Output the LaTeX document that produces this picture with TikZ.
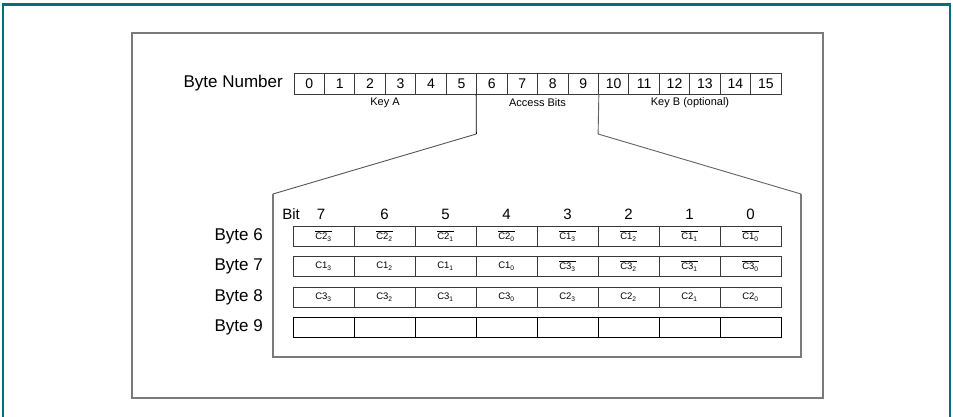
\documentclass[tikz,border=0pt]{standalone}
\usepackage{fontspec}
\setmainfont{Liberation Sans}
\definecolor{frameteal}{HTML}{00707F}
\definecolor{boxgray}{HTML}{7A7A7A}
\definecolor{cellline}{HTML}{3A3A3A}
\newcommand\cv[2]{C#1\textsubscript{#2}}
\newcommand\cn[2]{$\overline{\hbox{C#1\textsubscript{#2}}}$}
\tikzset{
  bytecell/.style={draw=cellline, line width=0.9pt, minimum width=30.44pt, minimum height=21pt, inner sep=0pt, font=\fontsize{14}{14}\selectfont},
  bitcell/.style={draw=cellline, line width=0.9pt, minimum width=61pt, minimum height=20pt, inner sep=0pt, font=\fontsize{9.5}{9.5}\selectfont},
  biglabel/.style={font=\fontsize{17}{17}\selectfont, inner sep=0pt},
  smalllabel/.style={font=\fontsize{11}{11}\selectfont, inner sep=0pt},
  bitnum/.style={font=\fontsize{15}{15}\selectfont, inner sep=0pt},
}
\begin{document}
\begin{tikzpicture}[x=1pt,y=-1pt]
\useasboundingbox (0,0) rectangle (953,417);
% outer teal frame
\draw[frameteal, line width=2pt] (3,430) -- (3,5) -- (950,5) -- (950,430);
\draw[frameteal, line width=3pt] (2,4.5) -- (951,4.5);
% inner gray box
\draw[boxgray, line width=1.2pt] (132,33) rectangle (823,398);
\draw[boxgray, line width=2pt] (132,33) -- (823,33);
\draw[boxgray, line width=2pt] (132,398) -- (823,398);

% Byte number row
\node[biglabel, anchor=east] (bn) at (283,83.5) {Byte Number};
\foreach \i in {0,...,15} {
  \pgfmathsetmacro\xc{294+30.44*(\i+0.5)}
  \node[bytecell] (b\i) at (\xc,83.5) {\i};
}
\node[smalllabel] (ka) at (385,103) {Key A};
\node[smalllabel] (ab) at (537.5,103) {Access Bits};
\node[smalllabel] (kb) at (690,103) {Key B (optional)};

% zoom outline
\coordinate (z1) at (476.3,134);
\coordinate (z2) at (273,194);
\coordinate (z3) at (273,357);
\coordinate (z4) at (801,357);
\coordinate (z5) at (801,194);
\coordinate (z6) at (598.1,134);
\draw[black, line width=0.9pt] (b6.south west) -- (z1);
\draw[boxgray!70!black, line width=0.9pt] (z1) -- (z2);
\draw[boxgray, line width=1.2pt] (z2) -- (z3) -- (z4) -- (z5);
\draw[boxgray!80!black, line width=0.9pt] (z5) -- (z6) -- (b9.south east);

% bit header
\node[bitnum, anchor=east] (bitlbl) at (300,214) {Bit};
\node[bitnum] (h7) at (321,214) {7};
\foreach \j/\b in {1/6,2/5,3/4,4/3,5/2,6/1,7/0} {
  \pgfmathsetmacro\xc{293+61*(\j+0.5)}
  \node[bitnum] (h\b) at (\xc,214) {\b};
}

% byte labels
\node[biglabel, anchor=east] (l6) at (263,236) {Byte 6};
\node[biglabel, anchor=east] (l7) at (263,266) {Byte 7};
\node[biglabel, anchor=east] (l8) at (263,297) {Byte 8};
\node[biglabel, anchor=east] (l9) at (263,327) {Byte 9};

% rows
\foreach \j/\t in {0/\cn{2}{3},1/\cn{2}{2},2/\cn{2}{1},3/\cn{2}{0},4/\cn{1}{3},5/\cn{1}{2},6/\cn{1}{1},7/\cn{1}{0}} {
  \pgfmathsetmacro\xc{293+61*(\j+0.5)}
  \node[bitcell] (r6c\j) at (\xc,236) {\t};
}
\foreach \j/\t in {0/\cv{1}{3},1/\cv{1}{2},2/\cv{1}{1},3/\cv{1}{0},4/\cn{3}{3},5/\cn{3}{2},6/\cn{3}{1},7/\cn{3}{0}} {
  \pgfmathsetmacro\xc{293+61*(\j+0.5)}
  \node[bitcell] (r7c\j) at (\xc,266) {\t};
}
\foreach \j/\t in {0/\cv{3}{3},1/\cv{3}{2},2/\cv{3}{1},3/\cv{3}{0},4/\cv{2}{3},5/\cv{2}{2},6/\cv{2}{1},7/\cv{2}{0}} {
  \pgfmathsetmacro\xc{293+61*(\j+0.5)}
  \node[bitcell] (r8c\j) at (\xc,297) {\t};
}
\foreach \j in {0,...,7} {
  \pgfmathsetmacro\xc{293+61*(\j+0.5)}
  \node[bitcell, draw=black] (r9c\j) at (\xc,327) {};
}
\end{tikzpicture}
\end{document}
